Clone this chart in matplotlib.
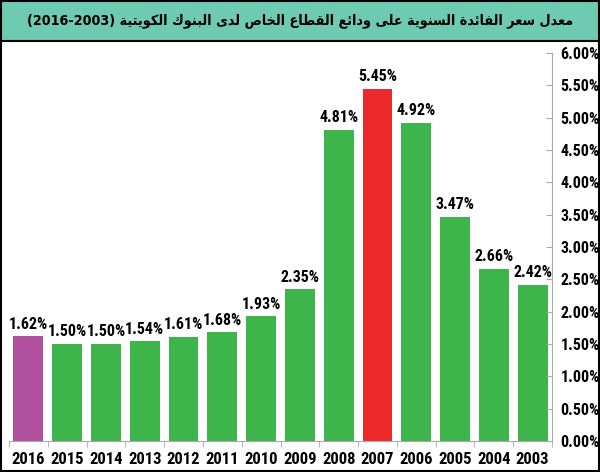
import matplotlib
matplotlib.use("Agg")
import matplotlib.pyplot as plt
from matplotlib import font_manager as fm
from matplotlib.patches import Rectangle

years = ["2016", "2015", "2014", "2013", "2012", "2011", "2010",
         "2009", "2008", "2007", "2006", "2005", "2004", "2003"]
rates = [1.62, 1.50, 1.50, 1.54, 1.61, 1.68, 1.93,
         2.35, 4.81, 5.45, 4.92, 3.47, 2.66, 2.42]
colors = ["#b0509f"] + ["#3db54a"] * 8 + ["#ed2a2b"] + ["#3db54a"] * 4
yticks = [0.0, 0.5, 1.0, 1.5, 2.0, 2.5, 3.0, 3.5, 4.0, 4.5, 5.0, 5.5, 6.0]

title_ar = "معدل سعر الفائدة السنوية على ودائع القطاع الخاص لدى البنوك الكويتية"
title_years = "(2016-2003)"

# small arabic shaper: isolated, final, initial, medial
FORMS = {
    "ا": (0xFE8D, 0xFE8E, None, None), "ب": (0xFE8F, 0xFE90, 0xFE91, 0xFE92),
    "ة": (0xFE93, 0xFE94, None, None), "ت": (0xFE95, 0xFE96, 0xFE97, 0xFE98),
    "خ": (0xFEA5, 0xFEA6, 0xFEA7, 0xFEA8), "د": (0xFEA9, 0xFEAA, None, None),
    "ر": (0xFEAD, 0xFEAE, None, None), "س": (0xFEB1, 0xFEB2, 0xFEB3, 0xFEB4),
    "ص": (0xFEB9, 0xFEBA, 0xFEBB, 0xFEBC), "ط": (0xFEC1, 0xFEC2, 0xFEC3, 0xFEC4),
    "ع": (0xFEC9, 0xFECA, 0xFECB, 0xFECC), "ف": (0xFED1, 0xFED2, 0xFED3, 0xFED4),
    "ق": (0xFED5, 0xFED6, 0xFED7, 0xFED8), "ك": (0xFED9, 0xFEDA, 0xFEDB, 0xFEDC),
    "ل": (0xFEDD, 0xFEDE, 0xFEDF, 0xFEE0), "م": (0xFEE1, 0xFEE2, 0xFEE3, 0xFEE4),
    "ن": (0xFEE5, 0xFEE6, 0xFEE7, 0xFEE8), "و": (0xFEED, 0xFEEE, None, None),
    "ى": (0xFEEF, 0xFEF0, None, None), "ي": (0xFEF1, 0xFEF2, 0xFEF3, 0xFEF4),
    "ئ": (0xFE89, 0xFE8A, 0xFE8B, 0xFE8C),
}


def shape(text):
    out = []
    for i, ch in enumerate(text):
        if ch not in FORMS:
            out.append(ch)
            continue
        prev = text[i - 1] if i > 0 else " "
        nxt = text[i + 1] if i + 1 < len(text) else " "
        joins_prev = prev in FORMS and FORMS[prev][2] is not None
        joins_next = FORMS[ch][2] is not None and nxt in FORMS
        f = FORMS[ch]
        if joins_prev and joins_next:
            out.append(chr(f[3]))
        elif joins_prev:
            out.append(chr(f[1]))
        elif joins_next:
            out.append(chr(f[2]))
        else:
            out.append(chr(f[0]))
    return "".join(out)[::-1]


# pick a narrow font if one is there
names = {f.name for f in fm.fontManager.ttflist}
narrow = "Liberation Sans"
for cand in ["Liberation Sans Narrow", "Roboto Condensed", "DejaVu Sans Condensed"]:
    if cand in names:
        narrow = cand
        break
is_narrow = narrow != "Liberation Sans"
lab_fs = 11.5 if is_narrow else 9.5

fig = plt.figure(figsize=(6, 4.72), dpi=100)
ax = fig.add_axes([0.015, 0.0657, 0.905, 0.822])

x = list(range(len(years)))
ax.bar(x, rates, width=0.77, color=colors)
for xi, v in zip(x, rates):
    ax.text(xi, v + 0.07, f"{v:.2f}%", ha="center", va="bottom",
            fontsize=lab_fs, fontweight="bold", family=narrow)

ax.set_xlim(-0.5, len(years) - 0.5)
ax.set_ylim(0, 6)
ax.set_xticks(x)
ax.set_xticklabels(years, fontsize=lab_fs + 0.5, fontweight="bold", family=narrow)
ax.set_xticks([i - 0.5 for i in range(len(years) + 1)], minor=True)
ax.tick_params(axis="x", which="major", length=0, pad=8)
ax.tick_params(axis="x", which="minor", length=4, color="#aaaaaa")

ax.yaxis.tick_right()
ax.set_yticks(yticks)
ax.set_yticklabels([f"{t:.2f}%" for t in yticks], fontsize=lab_fs,
                   fontweight="bold", family=narrow)
ax.tick_params(axis="y", direction="in", length=4, color="#aaaaaa", pad=6)

for s in ["top", "left"]:
    ax.spines[s].set_visible(False)
for s in ["right", "bottom"]:
    ax.spines[s].set_color("#aaaaaa")

# title band
fig.patches.append(Rectangle((0, 0.913), 1, 0.087, transform=fig.transFigure,
                             facecolor="#6ecab1", edgecolor="black", lw=1.5))
fig.patches.append(Rectangle((0.002, 0.002), 0.996, 0.996, transform=fig.transFigure,
                             facecolor="none", edgecolor="black", lw=1.5))
title = fig.text(0.5, 0.956, title_years + " " + shape(title_ar), ha="center",
                 va="center", fontsize=14, fontweight="bold",
                 family=["DejaVu Sans"], fontstretch="condensed")

# shrink the title until it fits the band
renderer = fig.canvas.get_renderer()
fs = 14
while title.get_window_extent(renderer).width > 560 and fs > 6:
    fs -= 0.25
    title.set_fontsize(fs)

fig.savefig("out.png", dpi=100)
